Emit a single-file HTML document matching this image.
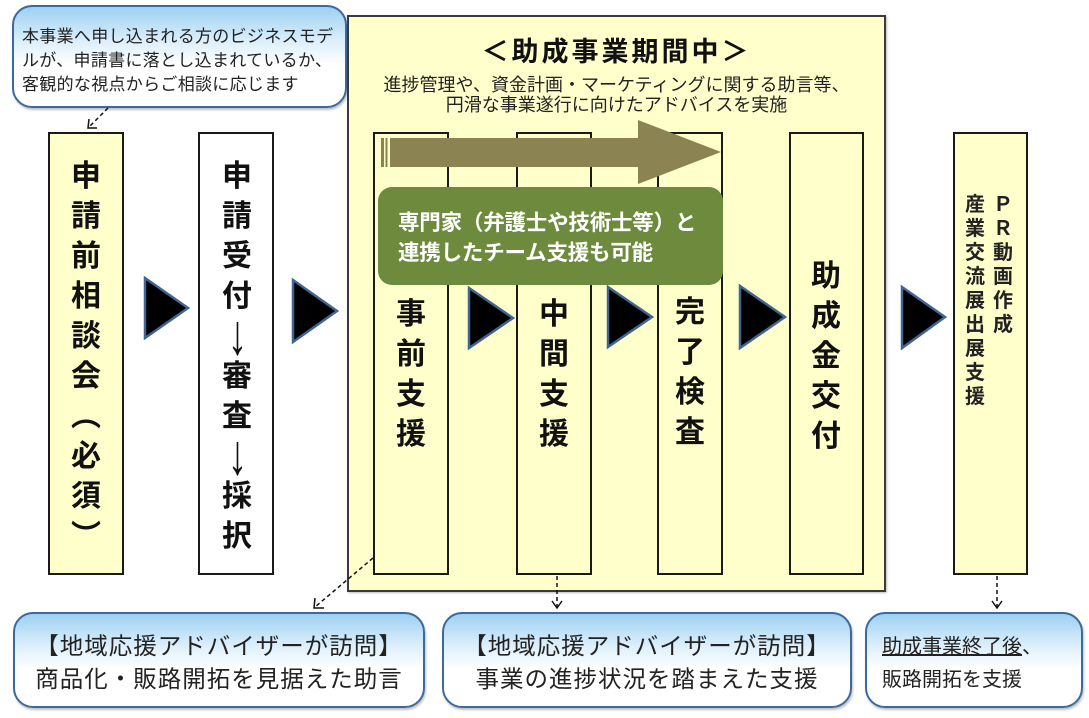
<!DOCTYPE html>
<html>
<head>
<meta charset="utf-8">
<style>
  html, body { margin:0; padding:0; }
  body { width:1089px; height:718px; position:relative; background:#fff; overflow:hidden;
         font-family:"Liberation Sans","Noto Sans CJK JP",sans-serif; color:#111; }
  .abs { position:absolute; }
  .callout { position:absolute; box-sizing:border-box; border:2.5px solid #3A6A9E; border-radius:20px;
             background:linear-gradient(to bottom,#9ED0F2 0%,#DDEFFB 35%,#ffffff 60%,#ffffff 100%);
             box-shadow:1px 2px 2px rgba(0,0,0,0.25); }
  .col { position:absolute; box-sizing:border-box; border:2px solid #1a1a1a; background:#FFFFCC; top:132px; height:443px; }
  .vt { position:absolute; width:44px; text-align:center; font-size:30px; line-height:40px; font-weight:bold; color:#111; }
  .vs { position:absolute; width:26px; text-align:center; font-size:20px; line-height:24px; font-weight:bold; color:#222; }
  .btxt { position:absolute; font-size:23.5px; line-height:33px; text-align:center; letter-spacing:1px; color:#222; }
  .arr { display:inline-block; font-size:30px; font-weight:normal; height:40px; line-height:40px; vertical-align:top; transform:scale(1.3,1.9); transform-origin:50% 50%; }
</style>
</head>
<body>

<!-- top callout -->
<div class="callout" style="left:12px;top:5px;width:335px;height:103px;"></div>
<div class="abs" style="left:22px;top:25px;font-size:17px;line-height:24px;letter-spacing:0.3px;color:#222;white-space:nowrap;">本事業へ申し込まれる方のビジネスモデ<br>ルが、申請書に落とし込まれているか、<br>客観的な視点からご相談に応じます</div>

<!-- column 1 -->
<div class="col" style="left:48px;width:76px;"></div>
<div class="vt" style="left:64px;top:157px;">申<br>請<br>前<br>相<br>談<br>会<br>︵<br>必<br>須<br>︶</div>

<!-- column 2 -->
<div class="col" style="left:198px;width:76px;background:#fff;"></div>
<div class="vt" style="left:215px;top:157px;">申<br>請<br>受<br>付<br><span class="arr">↓</span><br>審<br>査<br><span class="arr">↓</span><br>採<br>択</div>

<!-- big box -->
<div class="abs" style="left:347px;top:15px;width:539px;height:577px;box-sizing:border-box;border:2px solid #3a3a3a;background:#FFFFCC;box-shadow:1px 1px 2px rgba(0,0,0,0.25);"></div>
<div class="abs" style="left:347px;top:35px;width:539px;text-align:center;font-size:27px;line-height:34px;letter-spacing:3px;font-weight:bold;color:#111;">＜助成事業期間中＞</div>
<div class="abs" style="left:347px;top:75px;width:539px;text-align:center;font-size:18px;line-height:20px;color:#222;white-space:nowrap;">進捗管理や、資金計画・マーケティングに関する助言等、<br>円滑な事業遂行に向けたアドバイスを実施</div>

<!-- inner columns -->
<div class="col" style="left:373px;width:76px;"></div>
<div class="col" style="left:516px;width:76px;"></div>
<div class="col" style="left:657px;width:66px;"></div>
<div class="col" style="left:789px;width:75px;"></div>

<!-- last column -->
<div class="col" style="left:953px;width:75px;"></div>

<!-- arrow and triangles -->
<svg class="abs" style="left:0;top:0;" width="1089" height="718" viewBox="0 0 1089 718">
  <polygon points="390,138 638,138 638,120 721,152 638,184 638,167 390,167" fill="#8C8352"/>
  <rect x="381" y="138" width="3" height="29" fill="#8C8352"/>
  <rect x="385.5" y="138" width="2" height="29" fill="#8C8352"/>
  <g fill="#000" stroke="#3F6592" stroke-width="2.5" stroke-linejoin="miter">
    <polygon points="145,278 145,338 188,308"/>
    <polygon points="293,280 293,342 337,311"/>
    <polygon points="469,288 469,348 513,318"/>
    <polygon points="608,287 608,347 652,317"/>
    <polygon points="740,286 740,348 785,317"/>
    <polygon points="902,287 902,348 945,317"/>
  </g>
  <g stroke="#111" stroke-width="1.5" fill="none">
    <line x1="108" y1="108" x2="89" y2="127" stroke-dasharray="4,3"/>
    <polyline points="89,119 88,128 97,128"/>
    <line x1="373" y1="558" x2="315" y2="607" stroke-dasharray="4,3"/>
    <polyline points="315,598 314,608 324,608"/>
    <line x1="557" y1="576" x2="557" y2="607" stroke-dasharray="4,3"/>
    <polyline points="552,601 557,608 562,601"/>
    <line x1="997" y1="576" x2="997" y2="607" stroke-dasharray="4,3"/>
    <polyline points="992,601 997,608 1002,601"/>
  </g>
</svg>

<!-- green box -->
<div class="abs" style="left:378px;top:187px;width:345px;height:98px;border-radius:14px;background:#6E8B3D;"></div>
<div class="abs" style="left:398px;top:208px;font-size:21.5px;line-height:30px;font-weight:bold;color:#fff;white-space:nowrap;letter-spacing:-0.2px;">専門家（弁護士や技術士等）と<br>連携したチーム支援も可能</div>

<!-- inner column texts -->
<div class="vt" style="left:389px;top:295px;">事<br>前<br>支<br>援</div>
<div class="vt" style="left:532px;top:295px;">中<br>間<br>支<br>援</div>
<div class="vt" style="left:668px;top:293px;">完<br>了<br>検<br>査</div>
<div class="vt" style="left:804px;top:257px;">助<br>成<br>金<br>交<br>付</div>

<!-- last column texts -->
<div class="vs" style="left:990px;top:193px;">Ｐ<br>Ｒ<br>動<br>画<br>作<br>成</div>
<div class="vs" style="left:962px;top:193px;">産<br>業<br>交<br>流<br>展<br>出<br>展<br>支<br>援</div>

<!-- bottom callouts -->
<div class="callout" style="left:13px;top:612px;width:412px;height:96px;"></div>
<div class="btxt" style="left:13px;top:630px;width:412px;white-space:nowrap;">【地域応援アドバイザーが訪問】<br>商品化・販路開拓を見据えた助言</div>

<div class="callout" style="left:442px;top:612px;width:410px;height:96px;"></div>
<div class="btxt" style="left:442px;top:630px;width:410px;white-space:nowrap;">【地域応援アドバイザーが訪問】<br>事業の進捗状況を踏まえた支援</div>

<div class="callout" style="left:865px;top:612px;width:218px;height:96px;"></div>
<div class="abs" style="left:882px;top:631px;font-size:20px;line-height:33px;color:#222;white-space:nowrap;"><span style="text-decoration:underline;">助成事業終了後</span>、<br>販路開拓を支援</div>

</body>
</html>
